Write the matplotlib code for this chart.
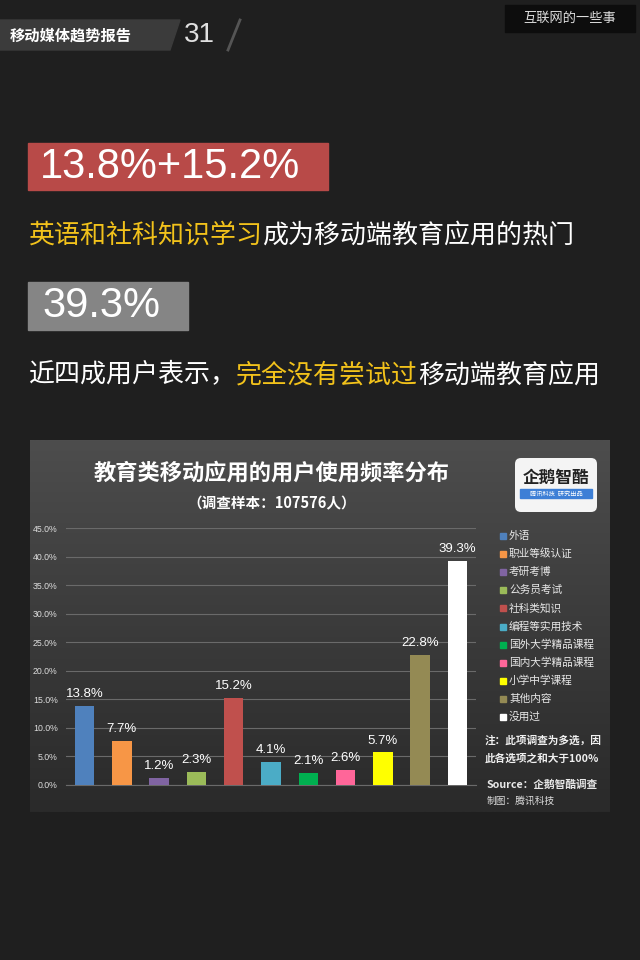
import matplotlib
matplotlib.use("Agg")
import matplotlib.pyplot as plt
import numpy as np
from matplotlib.patches import Rectangle, Polygon, FancyBboxPatch
from matplotlib.colors import LinearSegmentedColormap

plt.rcParams['font.family'] = ['Noto Sans CJK SC', 'DejaVu Sans']

categories = ["外语", "职业等级认证", "考研考博", "公务员考试", "社科类知识", "编程等实用技术",
              "国外大学精品课程", "国内大学精品课程", "小学中学课程", "其他内容", "没用过"]
values = [13.8, 7.7, 1.2, 2.3, 15.2, 4.1, 2.1, 2.6, 5.7, 22.8, 39.3]
colors = ["#4f81bd", "#f79646", "#8064a2", "#9bbb59", "#c0504d", "#4bacc6",
          "#00b050", "#ff6699", "#ffff00", "#948a54", "#ffffff"]
yticks = [0, 5, 10, 15, 20, 25, 30, 35, 40, 45]

W, H = 640, 960
fig = plt.figure(figsize=(6.4, 9.6), dpi=100)
fig.patch.set_facecolor("#1f1f1f")

bg = fig.add_axes([0, 0, 1, 1])
bg.set_xlim(0, W)
bg.set_ylim(H, 0)
bg.axis("off")
bg.set_facecolor("#1f1f1f")
renderer = fig.canvas.get_renderer()


def seq_text(x, y, parts, fontsize):
    for s, col in parts:
        t = bg.text(x, y, s, color=col, fontsize=fontsize, va="center", ha="left")
        x += t.get_window_extent(renderer=renderer).width


# header banner
bg.add_patch(Polygon([[0, 20], [180, 20], [170, 50], [0, 50]], closed=True, color="#3b3b3b"))
bg.text(10, 36, "移动媒体趋势报告", color="white", fontsize=11, fontweight="bold", va="center", ha="left")
bg.text(184, 35, "31", color="#e0e0e0", fontsize=20, va="center", ha="left",
        family=["Liberation Sans", "DejaVu Sans"])
bg.plot([228, 240], [50, 20], color="#555555", lw=2)
bg.add_patch(Rectangle((505, 5), 130, 27, color="#0d0d0d"))
bg.text(570, 18.5, "互联网的一些事", color="#dddddd", fontsize=9.5, va="center", ha="center")

# red highlight box
bg.add_patch(Rectangle((28, 143), 300, 47, color="#b84a48"))
bg.text(40, 167, "13.8%+15.2%", color="white", fontsize=30, va="center", ha="left",
        family=["Liberation Sans", "DejaVu Sans"])
seq_text(28, 235, [("英语和社科知识学习", "#f2c21b"), ("成为移动端教育应用的热门", "white")], 18.7)

# gray highlight box
bg.add_patch(Rectangle((28, 282), 160, 48, color="#858585"))
bg.text(42, 306, "39.3%", color="white", fontsize=30, va="center", ha="left",
        family=["Liberation Sans", "DejaVu Sans"])
seq_text(28, 375, [("近四成用户表示，", "white"), ("完全没有尝试过", "#f2c21b"),
                   ("移动端教育应用", "white")], 18.7)

# chart panel gradient
grad = np.linspace(0, 1, 256).reshape(-1, 1)
cmap = LinearSegmentedColormap.from_list("p", ["#4d4d4d", "#3b3b3b", "#2a2a2a"])
bg.imshow(grad, extent=(30, 610, 812, 440), cmap=cmap, aspect="auto", zorder=1)

bg.text(272, 473, "教育类移动应用的用户使用频率分布", color="white", fontsize=16,
        fontweight="bold", va="center", ha="center", zorder=3)
bg.text(272, 503, "（调查样本：107576人）", color="white", fontsize=10.5,
        fontweight="bold", va="center", ha="center", zorder=3)

# logo
bg.add_patch(FancyBboxPatch((515, 458), 82, 54, boxstyle="round,pad=0,rounding_size=6",
                            facecolor="#f4f4f4", edgecolor="none", zorder=3))
bg.text(556, 478, "企鹅智酷", color="#222222", fontsize=12, fontweight="bold",
        va="center", ha="center", zorder=4)
bg.add_patch(Rectangle((520, 489), 72, 9, color="#3d7fd6", zorder=4))
bg.text(556, 493.5, "腾讯科技  研究出品", color="white", fontsize=4.5, va="center", ha="center", zorder=5)

# legend
ly0 = 536
for i, (c, col) in enumerate(zip(categories, colors)):
    y = ly0 + i * 18.1
    bg.add_patch(Rectangle((500, y - 3), 6, 6, color=col, zorder=3))
    bg.text(509, y, c, color="#e8e8e8", fontsize=7.7, va="center", ha="left", zorder=3)

bg.text(485, 741, "注：此项调查为多选，因", color="#f0f0f0", fontsize=7.7, fontweight="bold",
        va="center", ha="left", zorder=3)
bg.text(485, 759, "此各选项之和大于100%", color="#f0f0f0", fontsize=7.7, fontweight="bold",
        va="center", ha="left", zorder=3)
bg.text(487, 785, "Source：企鹅智酷调查", color="#e8e8e8", fontsize=7.7, style="italic",
        fontweight="bold", va="center", ha="left", zorder=3)
bg.text(487, 801, "制图：腾讯科技", color="#dddddd", fontsize=7, style="italic",
        va="center", ha="left", zorder=3)

# bar chart axes
x0, x1, y0p, y1p = 66, 476, 528, 785
ax = fig.add_axes([x0 / W, 1 - y1p / H, (x1 - x0) / W, (y1p - y0p) / H])
ax.patch.set_alpha(0)
xs = np.arange(len(values))
ax.bar(xs, values, width=0.52, color=colors, zorder=3)
for x, v in zip(xs, values):
    ax.text(x, v + 1.0, f"{v}%", color="white", fontsize=9.5, ha="center", va="bottom", zorder=4,
            family=["Liberation Sans", "DejaVu Sans"])
ax.set_xlim(-0.5, len(values) - 0.5)
ax.set_ylim(0, 45)
ax.set_yticks(yticks)
ax.set_yticklabels([f"{t:.1f}%" for t in yticks], color="#dddddd", fontsize=6.3,
                   family=["Liberation Sans", "DejaVu Sans"])
ax.set_xticks([])
ax.grid(axis="y", color="#6a6a6a", lw=0.8, zorder=0)
for s in ["top", "right", "left"]:
    ax.spines[s].set_visible(False)
ax.spines["bottom"].set_color("#6a6a6a")
ax.tick_params(axis="y", length=0, pad=6)

fig.savefig("out.png", dpi=100, facecolor=fig.get_facecolor())
